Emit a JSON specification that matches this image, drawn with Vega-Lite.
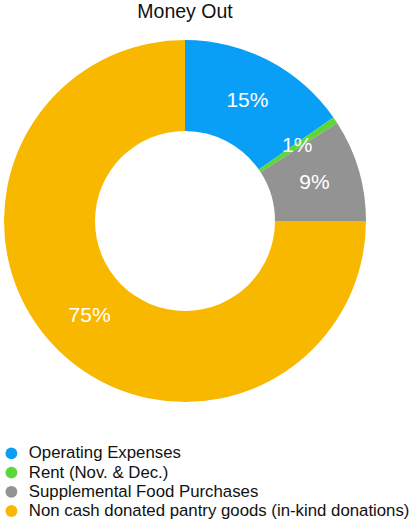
{
  "$schema": "https://vega.github.io/schema/vega-lite/v6.json",
  "autosize": {"type": "none"},
  "padding": {"left": 0, "top": 40, "right": 49, "bottom": 127},
  "width": 370,
  "height": 362,
  "background": "white",
  "title": {
    "text": "Money Out",
    "font": "Liberation Sans",
    "fontSize": 19.5,
    "fontWeight": "normal",
    "color": "#111111",
    "anchor": "middle",
    "offset": 18
  },
  "data": {
    "values": [
      {"category": "Operating Expenses", "share": 0.153, "rank": 1},
      {"category": "Rent (Nov. & Dec.)", "share": 0.006, "rank": 2},
      {"category": "Supplemental Food Purchases", "share": 0.091, "rank": 3},
      {"category": "Non cash donated pantry goods (in-kind donations)", "share": 0.75, "rank": 4}
    ]
  },
  "encoding": {
    "theta": {"field": "share", "type": "quantitative", "stack": true},
    "order": {"field": "rank", "type": "quantitative"},
    "color": {
      "field": "category",
      "type": "nominal",
      "sort": ["Operating Expenses", "Rent (Nov. & Dec.)", "Supplemental Food Purchases", "Non cash donated pantry goods (in-kind donations)"],
      "scale": {
        "domain": ["Operating Expenses", "Rent (Nov. & Dec.)", "Supplemental Food Purchases", "Non cash donated pantry goods (in-kind donations)"],
        "range": ["#0a9ff7", "#5dd63a", "#939393", "#f8b800"]
      },
      "legend": {
        "title": null,
        "orient": "none",
        "legendX": 3,
        "legendY": 405,
        "padding": 0,
        "symbolType": "circle",
        "symbolSize": 140,
        "symbolStrokeWidth": 0,
        "labelFont": "Liberation Sans",
        "labelFontSize": 16.8,
        "labelColor": "#111111",
        "labelOffset": 9,
        "labelLimit": 500,
        "rowPadding": 1.2
      }
    }
  },
  "layer": [
    {
      "mark": {"type": "arc", "innerRadius": 90, "outerRadius": 181}
    },
    {
      "mark": {"type": "text", "radius": 135, "font": "Liberation Sans", "fontSize": 21, "color": "white"},
      "encoding": {
        "text": {"field": "share", "type": "quantitative", "format": ".0%"},
        "color": {"value": "white"}
      }
    }
  ],
  "config": {"view": {"stroke": null}}
}
